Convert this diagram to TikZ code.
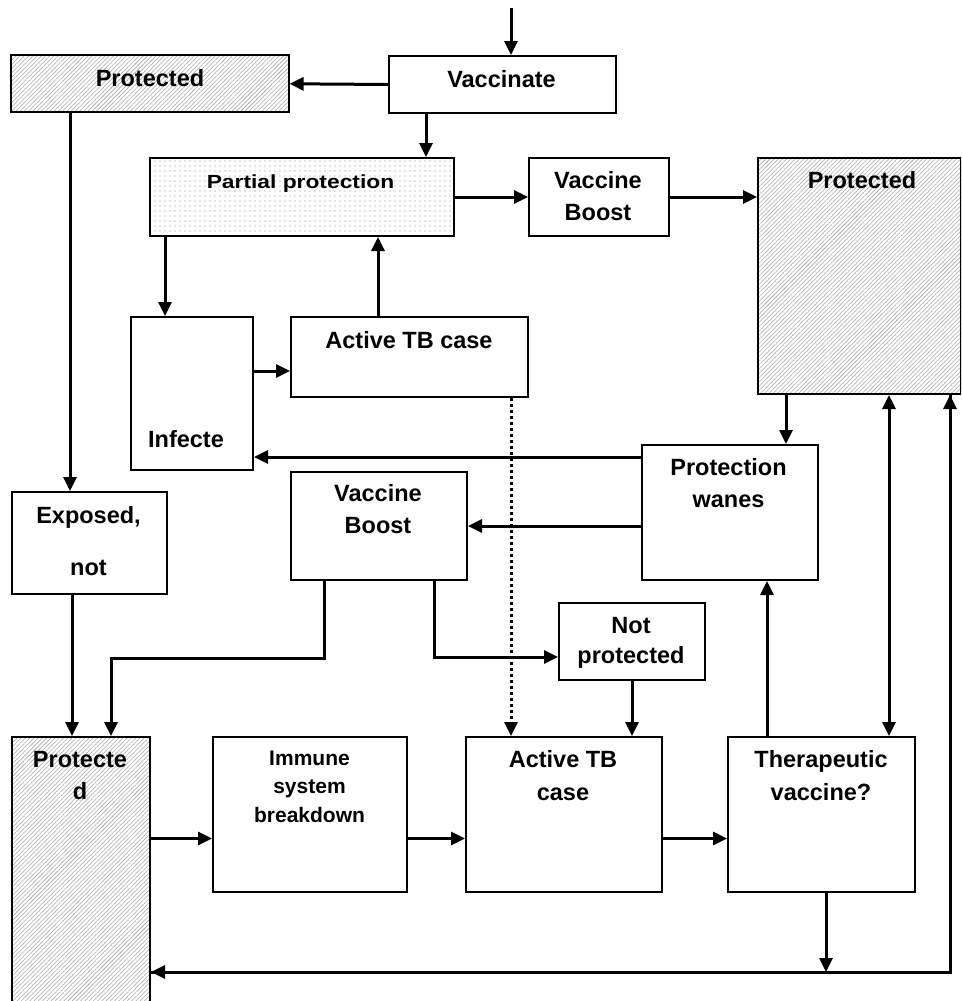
\documentclass[tikz,border=0pt]{standalone}
\usepackage{fontspec}
\setmainfont{Liberation Sans}
\usetikzlibrary{arrows.meta,patterns.meta,calc}
\tikzset{
  box/.style={draw, line width=2pt, inner sep=0pt, anchor=north west},
  hatch/.style={pattern={Lines[angle=45,distance=3pt,line width=0.55pt]}, pattern color=black!35},
  dotfill/.style={pattern={Dots[distance=5pt,radius=0.55pt]}, pattern color=black!45},
  txt/.style={font=\fontsize{23.5}{32}\selectfont\bfseries, align=center, inner sep=0pt, anchor=base},
  tip/.tip={Triangle[length=14pt,width=13pt]},
  arr/.style={line width=3pt, -tip},
  dotline/.style={line width=3pt, dash pattern=on 3pt off 3pt, -tip}
}
\begin{document}
\begin{tikzpicture}[x=1pt,y=-1pt]
\useasboundingbox (0,0) rectangle (961,1001);
\clip (0,0) rectangle (961,1001);
% boxes
\node[box, hatch, minimum width=278pt, minimum height=57pt] (prot1) at (11,55) {};
\node[box, minimum width=227pt, minimum height=57pt] (vacc) at (388,55) {};
\node[box, dotfill, minimum width=304pt, minimum height=78pt] (partial) at (149,157) {};
\node[box, minimum width=140pt, minimum height=78pt] (boost1) at (528,157) {};
\node[box, hatch, minimum width=203pt, minimum height=236pt] (prot2) at (757,157) {};
\node[box, minimum width=122pt, minimum height=153pt] (infecte) at (130,316) {};
\node[box, minimum width=237pt, minimum height=80pt] (atb1) at (290,316) {};
\node[box, minimum width=176pt, minimum height=135pt] (wanes) at (641,444) {};
\node[box, minimum width=155pt, minimum height=102pt] (exposed) at (11,491) {};
\node[box, minimum width=176pt, minimum height=108pt] (boost2) at (290,471) {};
\node[box, minimum width=146pt, minimum height=77pt] (notprot) at (558,602) {};
\node[box, hatch, minimum width=138pt, minimum height=290pt] (prot3) at (11,736) {};
\node[box, minimum width=194pt, minimum height=155pt] (immune) at (212,736) {};
\node[box, minimum width=196pt, minimum height=155pt] (atb2) at (465,736) {};
\node[box, minimum width=187pt, minimum height=155pt] (thera) at (727,736) {};
% texts (anchor = baseline of the last line)
\node[txt] (tprot1) at (150,86) {Protected};
\node[txt] (tvacc) at (501.5,87) {Vaccinate};
\node[txt] (tpartial) at (300.5,188) {\scalebox{1.2}[1]{\fontsize{19}{22}\selectfont Partial protection}};
\node[txt] (tboost1) at (598,220) {Vaccine\\Boost};
\node[txt] (tprot2) at (862,188) {Protected};
\node[txt] (tinfecte) at (186,447) {Infecte};
\node[txt] (tatb1) at (409,348) {Active TB case};
\node[txt] (twanes) at (728.5,507) {Protection\\wanes};
\node[txt, font=\fontsize{23.5}{52}\selectfont\bfseries] (texposed) at (88.5,575) {Exposed,\\not};
\node[txt] (tboost2) at (378,533) {Vaccine\\Boost};
\node[txt, font=\fontsize{23.5}{30}\selectfont\bfseries] (tnotprot) at (631,663) {Not\\protected};
\node[txt] (tprot3) at (80,799) {Protecte\\d};
\node[txt, font=\fontsize{21}{28.5}\selectfont\bfseries] (timmune) at (309.5,822) {Immune\\system\\breakdown};
\node[txt, font=\fontsize{23.5}{33}\selectfont\bfseries] (tatb2) at (563,800) {Active TB\\case};
\node[txt, font=\fontsize{23.5}{33}\selectfont\bfseries] (tthera) at (821,800) {Therapeutic\\vaccine?};
% connectors
\coordinate (start) at (511,8);
\draw[arr] (start) -- (start |- vacc.north);
\draw[arr] (vacc.west) -- (prot1.east);
\coordinate (p3) at ([xshift=38pt]vacc.south west);
\draw[arr] (p3) -- (p3 |- partial.north);
\draw[arr] (partial.east) -- (boost1.west);
\draw[arr] (boost1.east) -- (prot2.west |- boost1.east);
\coordinate (p6) at ([xshift=59pt]prot1.south west);
\draw[arr] (p6) -- (p6 |- exposed.north);
\coordinate (p7) at ([xshift=16pt]partial.south west);
\draw[arr] (p7) -- (p7 |- infecte.north);
\coordinate (p8) at ([yshift=-14pt]atb1.west);
\draw[arr] (infecte.east |- p8) -- (p8);
\coordinate (p9) at ([xshift=88pt]atb1.north west);
\draw[arr] (p9) -- (p9 |- partial.south);
\coordinate (p10) at ([xshift=221pt]atb1.south west);
\draw[dotline] (p10) -- (p10 |- atb2.north);
\coordinate (p11) at ([xshift=29pt]prot2.south west);
\draw[arr] (p11) -- (p11 |- wanes.north);
\coordinate (p12) at ([yshift=-13pt]wanes.north west);
\draw[arr] (p12) -- (infecte.east |- p12);
\draw[arr] (wanes.west |- boost2.east) -- (boost2.east);
\coordinate (p14) at ([xshift=34pt]boost2.south west);
\draw[arr] (p14) -- ++(0,77) -| ([xshift=100pt]prot3.north west);
\coordinate (p15) at ([xshift=144pt]boost2.south west);
\draw[arr] (p15) |- ([yshift=-15.5pt]notprot.west);
\draw[arr] (notprot.south) -- (notprot.south |- atb2.north);
\coordinate (p17) at ([xshift=61pt]exposed.south west);
\draw[arr] (p17) -- (p17 |- prot3.north);
\coordinate (p18) at ([yshift=-24pt]immune.west);
\draw[arr] (prot3.east |- p18) -- (p18);
\draw[arr] ([yshift=-24pt]immune.east) -- ([yshift=-24pt]atb2.west);
\draw[arr] ([yshift=-24pt]atb2.east) -- ([yshift=-24pt]thera.west);
\coordinate (p21) at ([xshift=40pt]thera.north west);
\draw[arr] (p21) -- (p21 |- wanes.south);
\coordinate (p22) at ([xshift=132pt]prot2.south west);
\draw[arr, tip-tip] (p22) -- (p22 |- thera.north);
\coordinate (loopR) at (950,972);
\coordinate (p23) at ([xshift=99pt]thera.south west);
\draw[arr] (p23) -- (p23 |- loopR);
\draw[line width=3pt, line join=miter] (loopR -| prot3.east) -- (loopR) -- (loopR |- prot2.south);
\draw[arr] (loopR) -- (loopR -| prot3.east);
\draw[arr] (loopR) -- (loopR |- prot2.south);
\end{tikzpicture}
\end{document}
